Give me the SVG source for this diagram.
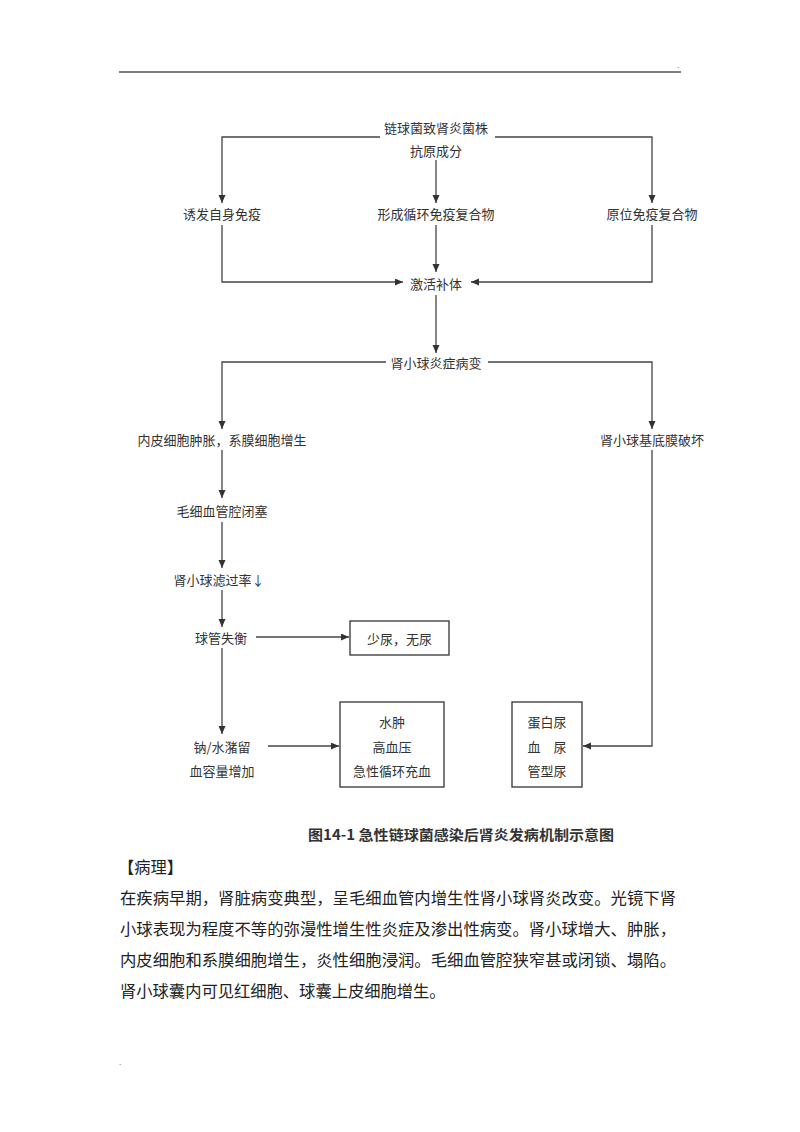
<svg xmlns="http://www.w3.org/2000/svg" width="800" height="1132" viewBox="0 0 800 1132">
<style>
.t{font-family:"Noto Sans CJK SC","Liberation Serif",sans-serif;font-size:13px;fill:#333;text-anchor:middle;dominant-baseline:central}
.p{font-family:"Noto Sans CJK SC","Liberation Serif",sans-serif;font-size:16.3px;fill:#222;dominant-baseline:central}
.cap{font-family:"Noto Sans CJK SC","Liberation Sans",sans-serif;font-size:14px;font-weight:bold;fill:#333;dominant-baseline:central}
.c{fill:none;stroke:#444;stroke-width:1.3}
.b{fill:#fff;stroke:#333;stroke-width:1.3}
</style>
<defs>
<marker id="ah" markerWidth="9" markerHeight="8" refX="8" refY="3.5" orient="auto" markerUnits="userSpaceOnUse">
<path d="M0,0 L8,3.5 L0,7 z" fill="#333"/>
</marker>
</defs>
<rect width="800" height="1132" fill="#fff"/>
<line x1="119" y1="72" x2="681" y2="72" stroke="#555" stroke-width="1.5"/>
<text x="677" y="68" font-family="Liberation Sans, sans-serif" font-size="8" fill="#333">.</text>

<g id="connectors">
<path class="c" d="M380,137 H222 V203" marker-end="url(#ah)"/>
<path class="c" d="M495,137 H652 V203" marker-end="url(#ah)"/>
<path class="c" d="M436,160 V203" marker-end="url(#ah)"/>
<path class="c" d="M222,225 V282 H403" marker-end="url(#ah)"/>
<path class="c" d="M652,225 V282 H471" marker-end="url(#ah)"/>
<path class="c" d="M436,225 V272" marker-end="url(#ah)"/>
<path class="c" d="M436,295 V353" marker-end="url(#ah)"/>
<path class="c" d="M386,362 H222 V429" marker-end="url(#ah)"/>
<path class="c" d="M488,362 H652 V429" marker-end="url(#ah)"/>
<path class="c" d="M222,450 V498" marker-end="url(#ah)"/>
<path class="c" d="M222,522 V568" marker-end="url(#ah)"/>
<path class="c" d="M222,590 V627" marker-end="url(#ah)"/>
<path class="c" d="M256,637 H349" marker-end="url(#ah)"/>
<path class="c" d="M222,648 V734" marker-end="url(#ah)"/>
<path class="c" d="M268,746 H339" marker-end="url(#ah)"/>
<path class="c" d="M652,450 V746 H583" marker-end="url(#ah)"/>
</g>

<g id="n-strain"><text class="t" x="436" y="127">链球菌致肾炎菌株</text></g>
<g id="n-antigen"><text class="t" x="436" y="150">抗原成分</text></g>
<g id="n-autoimmune"><text class="t" x="222" y="213">诱发自身免疫</text></g>
<g id="n-circulating"><text class="t" x="436" y="213">形成循环免疫复合物</text></g>
<g id="n-insitu"><text class="t" x="652" y="213">原位免疫复合物</text></g>
<g id="n-complement"><text class="t" x="436" y="283">激活补体</text></g>
<g id="n-inflam"><text class="t" x="436" y="362">肾小球炎症病变</text></g>
<g id="n-endo"><text class="t" x="222" y="439">内皮细胞肿胀，系膜细胞增生</text></g>
<g id="n-gbm"><text class="t" x="652" y="439">肾小球基底膜破坏</text></g>
<g id="n-occlusion"><text class="t" x="222" y="510">毛细血管腔闭塞</text></g>
<g id="n-gfr"><text class="t" x="219" y="579">肾小球滤过率↓</text></g>
<g id="n-imbalance"><text class="t" x="221" y="637">球管失衡</text></g>
<g id="n-oliguria"><rect class="b" x="350" y="621" width="99" height="34"/><text class="t" x="399.5" y="638">少尿，无尿</text></g>
<g id="n-retention"><text class="t" x="222" y="746">钠/水潴留</text><text class="t" x="222" y="770">血容量增加</text></g>
<g id="n-edema"><rect class="b" x="340" y="702" width="104" height="85"/><text class="t" x="392" y="721">水肿</text><text class="t" x="392" y="746">高血压</text><text class="t" x="392" y="770">急性循环充血</text></g>
<g id="n-urine"><rect class="b" x="512" y="702" width="70" height="85"/><text class="t" x="547" y="721">蛋白尿</text><text class="t" x="547" y="746" xml:space="preserve">血　尿</text><text class="t" x="547" y="770">管型尿</text></g>

<text class="cap" x="308" y="834" textLength="306" lengthAdjust="spacingAndGlyphs">图14-1  急性链球菌感染后肾炎发病机制示意图</text>

<text class="p" x="118" y="866">【病理】</text>
<text class="p" x="120" y="897" textLength="556" lengthAdjust="spacingAndGlyphs">在疾病早期，肾脏病变典型，呈毛细血管内增生性肾小球肾炎改变。光镜下肾</text>
<text class="p" x="120" y="928" textLength="556" lengthAdjust="spacingAndGlyphs">小球表现为程度不等的弥漫性增生性炎症及渗出性病变。肾小球增大、肿胀，</text>
<text class="p" x="120" y="959" textLength="556" lengthAdjust="spacingAndGlyphs">内皮细胞和系膜细胞增生，炎性细胞浸润。毛细血管腔狭窄甚或闭锁、塌陷。</text>
<text class="p" x="120" y="990">肾小球囊内可见红细胞、球囊上皮细胞增生。</text>
<text x="119" y="1065" font-family="Liberation Sans, sans-serif" font-size="8" fill="#333">.</text>
</svg>
